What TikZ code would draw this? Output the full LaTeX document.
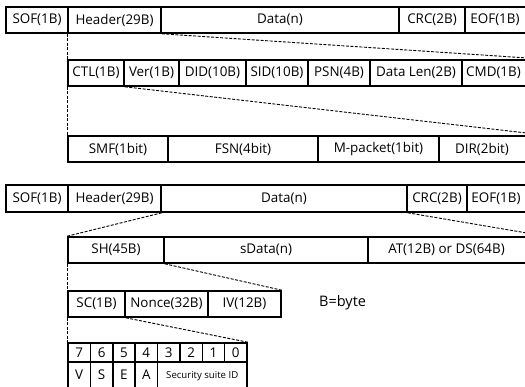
\documentclass[tikz,border=0pt]{standalone}
\usepackage{fontspec}
\setmainfont{Open Sans}
\begin{document}
\begin{tikzpicture}[x=1pt,y=-1pt,
  fld/.style={draw, line width=1.6pt, inner sep=0pt, font=\fontsize{13.4}{15}\selectfont},
  bitfld/.style={fld, font=\fontsize{13.4}{15}\selectfont},
  link/.style={line width=0.9pt, dash pattern=on 3pt off 1.5pt}]
\useasboundingbox (0,0) rectangle (525,386);
\clip (0,0) rectangle (525,386);
% field box: name, x1, y1, x2, y2, text
\newcommand\fieldbox[7][fld]{%
  \node[#1, minimum width={(#5-#3)*1pt}, minimum height={(#6-#4)*1pt}]
    (#2) at ({(#3+#5)/2},{(#4+#6)/2}) {#7};}

% ---- frame layout ----
\fieldbox{sofA}{6}{7}{68}{33}{SOF(1B)}
\fieldbox{hdrA}{68}{7}{161}{33}{Header(29B)}
\fieldbox{datA}{161}{7}{399}{33}{Data(n)}
\fieldbox{crcA}{399}{7}{465}{33}{CRC(2B)}
\fieldbox{eofA}{465}{7}{545}{33}{\hspace*{-20pt}EOF(1B)}

% header fields
\fieldbox{ctl}{68}{60}{124}{86}{CTL(1B)}
\fieldbox{ver}{124}{60}{179}{86}{Ver(1B)}
\fieldbox{did}{179}{60}{246}{86}{DID(10B)}
\fieldbox{sid}{246}{60}{308}{86}{SID(10B)}
\fieldbox{psn}{308}{60}{370}{86}{PSN(4B)}
\fieldbox{dlen}{370}{60}{462}{86}{Data Len(2B)}
\fieldbox{cmd}{462}{60}{545}{86}{\hspace*{-20pt}CMD(1B)}

% CTL bits
\fieldbox{smf}{68}{136}{168}{162}{SMF(1bit)}
\fieldbox{fsn}{168}{136}{318}{162}{FSN(4bit)}
\fieldbox{mpk}{318}{136}{439}{162}{M-packet(1bit)}
\fieldbox{dir}{439}{136}{545}{162}{\hspace*{-20pt}DIR(2bit)}

\draw[link] (hdrA.south west) -- (ctl.north west);
\draw[link] (hdrA.south east) -- (cmd.north east);
\draw[link] (ctl.south west) -- (smf.north west);
\draw[link] (ctl.south east) -- (dir.north east);

% ---- secured frame layout ----
\fieldbox{sofB}{6}{185}{68}{212}{SOF(1B)}
\fieldbox{hdrB}{68}{185}{161}{212}{Header(29B)}
\fieldbox{datB}{161}{185}{407}{212}{Data(n)}
\fieldbox{crcB}{407}{185}{467}{212}{CRC(2B)}
\fieldbox{eofB}{467}{185}{545}{212}{\hspace*{-20pt}EOF(1B)}

\fieldbox{sh}{68}{237}{164}{263}{SH(45B)}
\fieldbox{sdat}{164}{237}{368}{263}{sData(n)}
\fieldbox{at}{368}{237}{545}{263}{\hspace*{-20pt}AT(12B) or DS(64B)}

\fieldbox{sc}{68}{291}{125}{317}{SC(1B)}
\fieldbox{nonce}{125}{291}{208}{317}{Nonce(32B)}
\fieldbox{iv}{208}{291}{281}{317}{IV(12B)}

\node[font=\fontsize{14.5}{16}\selectfont, anchor=west, inner sep=0pt] (note) at (319,303) {B=byte};

% security control bits
\fieldbox[bitfld]{b7}{68}{343}{90.4}{362}{7}
\fieldbox[bitfld]{b6}{90.4}{343}{112.8}{362}{6}
\fieldbox[bitfld]{b5}{112.8}{343}{135.1}{362}{5}
\fieldbox[bitfld]{b4}{135.1}{343}{157.5}{362}{4}
\fieldbox[bitfld]{b3}{157.5}{343}{179.9}{362}{3}
\fieldbox[bitfld]{b2}{179.9}{343}{202.3}{362}{2}
\fieldbox[bitfld]{b1}{202.3}{343}{224.6}{362}{1}
\fieldbox[bitfld]{b0}{224.6}{343}{247}{362}{0}
\fieldbox[bitfld]{fv}{68}{362}{90.4}{400}{\raisebox{13pt}{V}}
\fieldbox[bitfld]{fs}{90.4}{362}{112.8}{400}{\raisebox{13pt}{S}}
\fieldbox[bitfld]{fe}{112.8}{362}{135.1}{400}{\raisebox{13pt}{E}}
\fieldbox[bitfld]{fa}{135.1}{362}{157.5}{400}{\raisebox{13pt}{A}}
\fieldbox[bitfld]{ssid}{157.5}{362}{247}{400}{\raisebox{13pt}{\fontsize{9.6}{11}\selectfont Security suite ID}}

\draw[link] (hdrB.south east) -- (sh.north west);
\draw[link] (datB.south east) -- (at.north east);
\draw[link] (sh.south west) -- (sc.north west);
\draw[link] (sh.south east) -- (iv.north east);
\draw[link] (sc.south west) -- (b7.north west);
\draw[link] (sc.south east) -- (b0.north east);
\end{tikzpicture}
\end{document}
